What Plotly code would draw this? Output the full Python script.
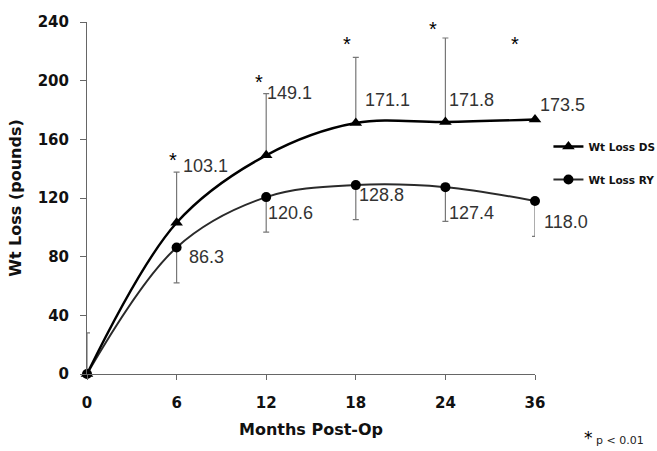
import plotly.graph_objects as go

months = ["0", "6", "12", "18", "24", "36"]
ds_loss = [0, 103.1, 149.1, 171.1, 171.8, 173.5]
ry_loss = [0, 86.3, 120.6, 128.8, 127.4, 118.0]
ds_err_up = [28, 34.6, 42.1, 44.8, 57.3, 0]
ry_err_down = [0, 24.2, 23.8, 23.5, 23.3, 24.1]
ds_labels = ["", "103.1", "149.1", "171.1", "171.8", "173.5"]
ry_labels = ["", "86.3", "120.6", "128.8", "127.4", "118.0"]
significant = [False, True, True, True, True, True]
y_ticks = [0, 40, 80, 120, 160, 200, 240]

xi = list(range(len(months)))
zeros = [0] * len(months)

fig = go.Figure()
fig.add_trace(go.Scatter(
    x=xi, y=ry_loss, name="Wt Loss RY", mode="lines+markers",
    line=dict(color="#2a2a2a", width=2, shape="spline"),
    marker=dict(symbol="circle", size=10, color="black"),
    error_y=dict(type="data", symmetric=False, array=zeros, arrayminus=ry_err_down,
                 color="#777", thickness=1.2, width=3),
    legendgroup="b", legendrank=2, cliponaxis=False,
))
fig.add_trace(go.Scatter(
    x=xi, y=ds_loss, name="Wt Loss DS", mode="lines+markers",
    line=dict(color="black", width=2.4, shape="spline"),
    marker=dict(symbol="triangle-up", size=11, color="black"),
    error_y=dict(type="data", symmetric=False, array=ds_err_up, arrayminus=zeros,
                 color="#777", thickness=1.2, width=3),
    legendgroup="a", legendrank=1, cliponaxis=False,
))

ds_shift = [(0, 0), (4, 57), (-1, 62), (7, 23), (2, 22), (3, 15)]
ry_shift = [(0, 0), (10, -10), (0, -16), (1, -10), (2, -26), (7, -21)]
lab_font = dict(family="Liberation Sans, Arial", size=18, color="#333")
for i in xi:
    if ds_labels[i]:
        fig.add_annotation(x=i, y=ds_loss[i], text=ds_labels[i], showarrow=False,
                           xanchor="left", yanchor="middle", xshift=ds_shift[i][0],
                           yshift=ds_shift[i][1], font=lab_font)
    if ry_labels[i]:
        fig.add_annotation(x=i, y=ry_loss[i], text=ry_labels[i], showarrow=False,
                           xanchor="left", yanchor="middle", xshift=ry_shift[i][0],
                           yshift=ry_shift[i][1], font=lab_font)

star_pos = [None, (-4, 148), (-7, 201), (-9, 227), (-12, 237), (-20, 227)]
for i in xi:
    if significant[i]:
        fig.add_annotation(x=i, y=star_pos[i][1], text="*", showarrow=False,
                           xanchor="center", yanchor="middle", xshift=star_pos[i][0],
                           yshift=-3,
                           font=dict(family="Liberation Sans, Arial", size=20, color="black"))

fig.add_annotation(xref="paper", yref="paper", x=(582 - 87) / 448, y=(374 - 450) / 352,
                   text="<span style='font-size:17px;color:black'>*</span> p < 0.01",
                   showarrow=False, xanchor="left", yanchor="bottom",
                   font=dict(family="DejaVu Sans", size=11, color="#222"))

fig.update_layout(
    width=657, height=451, autosize=False,
    margin=dict(l=87, r=122, t=22, b=77, autoexpand=False),
    paper_bgcolor="white", plot_bgcolor="white",
    font=dict(family="DejaVu Sans", color="#111"),
    legend=dict(x=1.03, y=(374 - 132) / 352, xanchor="left", yanchor="top",
                font=dict(family="DejaVu Sans", size=10.5, color="#111", weight="bold"),
                traceorder="grouped", tracegroupgap=14, bgcolor="rgba(0,0,0,0)",
                itemwidth=30),
    xaxis=dict(
        range=[0, 5], tickmode="array", tickvals=xi, ticktext=months,
        showline=True, linecolor="#666", linewidth=1, ticks="outside", ticklen=5,
        tickcolor="#666", showgrid=False, zeroline=False,
        tickfont=dict(family="DejaVu Sans", size=15, color="#111", weight="bold"),
        ticklabelstandoff=10,
        title=dict(text="Months Post-Op", standoff=12,
                   font=dict(family="DejaVu Sans", size=16, color="#111", weight="bold")),
    ),
    yaxis=dict(
        range=[0, 240], tickmode="array", tickvals=y_ticks,
        showline=True, linecolor="#666", linewidth=1, ticks="outside", ticklen=6,
        tickcolor="#666", showgrid=False, zeroline=False,
        tickfont=dict(family="DejaVu Sans", size=15, color="#111", weight="bold"),
        ticklabelstandoff=8,
        title=dict(text="Wt Loss (pounds)", standoff=12,
                   font=dict(family="DejaVu Sans", size=16, color="#111", weight="bold")),
    ),
)

fig.write_html("out.html", config={"responsive": False, "displayModeBar": False},
               post_script="document.body.style.margin='0';document.body.style.overflow='hidden';")
